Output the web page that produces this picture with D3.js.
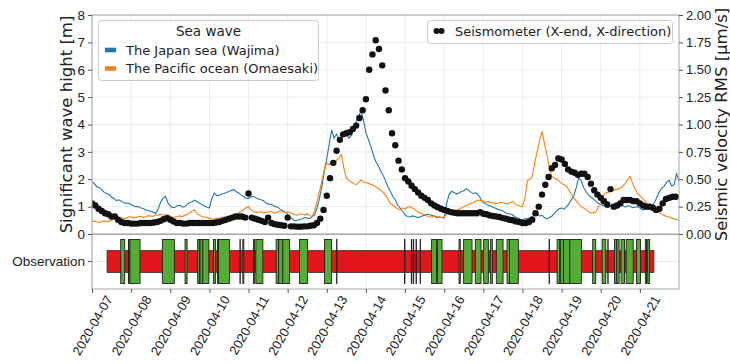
<!DOCTYPE html>
<html>
<head>
<meta charset="utf-8">
<script src="https://cdn.jsdelivr.net/npm/d3@7"></script>
<style>
  body { margin: 0; background: #fff; }
  svg { font-family: "DejaVu Sans", sans-serif; }
</style>
</head>
<body>
<svg id="chart" width="730" height="364"></svg>
<script>
// ---- data ----
const startDate = "2020-04-07";
const endDate = "2020-04-22";
const tickLabels = ["2020-04-07", "2020-04-08", "2020-04-09", "2020-04-10", "2020-04-11",
  "2020-04-12", "2020-04-13", "2020-04-14", "2020-04-15", "2020-04-16", "2020-04-17",
  "2020-04-18", "2020-04-19", "2020-04-20", "2020-04-21"];
const seisTicks = [0, 0.25, 0.5, 0.75, 1, 1.25, 1.5, 1.75, 2];

// significant wave height [m], one value every 1.5 hours
const waveStepHours = 1.5;
const wajima = [
  1.91, 1.84, 1.72, 1.70, 1.62, 1.52, 1.48, 1.44, 1.35, 1.30, 1.22, 1.25, 1.20, 1.14, 1.12, 1.13, 1.08, 1.02, 1.00, 1.00,
  0.95, 0.93, 0.88, 0.86, 0.82, 0.80, 0.75, 0.90, 1.15, 1.30, 1.38, 1.15, 1.02, 0.96, 0.98, 1.04, 1.05, 0.98, 1.00, 1.10,
  1.15, 1.18, 1.24, 1.18, 1.12, 1.08, 1.02, 0.98, 0.95, 1.30, 1.50, 1.40, 1.42, 1.46, 1.48, 1.52, 1.55, 1.60, 1.62, 1.54,
  1.50, 1.42, 1.38, 1.30, 1.30, 1.36, 1.38, 1.32, 1.28, 1.25, 1.22, 1.14, 1.10, 1.08, 1.05, 1.00, 0.98, 0.90, 0.85, 0.80,
  0.72, 0.60, 0.55, 0.48, 0.50, 0.54, 0.55, 0.60, 0.58, 0.56, 0.63, 0.70, 0.95, 1.30, 1.75, 2.30, 2.75, 3.30, 3.80, 3.50,
  3.65, 3.45, 3.55, 3.62, 3.70, 3.50, 3.60, 3.80, 4.10, 4.30, 4.50, 4.15, 3.70, 3.45, 3.20, 2.90, 2.65, 2.50, 2.30, 2.15,
  1.95, 1.72, 1.55, 1.38, 1.25, 1.05, 0.95, 0.82, 0.70, 0.64, 0.62, 0.66, 0.64, 0.60, 0.62, 0.66, 0.68, 0.72, 0.70, 0.68,
  0.66, 0.60, 0.62, 0.60, 0.58, 1.10, 1.45, 1.56, 1.52, 1.46, 1.50, 1.55, 1.58, 1.65, 1.60, 1.52, 1.48, 1.50, 1.42, 1.28,
  1.15, 1.10, 1.05, 1.02, 0.98, 0.94, 0.90, 0.88, 0.85, 0.78, 0.75, 0.73, 0.70, 0.62, 0.58, 0.54, 0.52, 0.56, 0.55, 0.60,
  0.63, 0.70, 0.72, 0.66, 0.68, 0.60, 0.55, 0.60, 0.65, 0.75, 0.85, 0.92, 0.95, 0.90, 1.00, 1.10, 1.25, 1.40, 1.70, 2.05,
  1.95, 1.70, 1.55, 1.42, 1.35, 1.28, 1.20, 1.12, 1.08, 1.04, 1.00, 0.96, 1.02, 1.08, 1.06, 1.00, 1.02, 1.05, 0.98, 1.03,
  1.02, 0.96, 0.98, 1.00, 0.95, 0.88, 0.90, 0.95, 0.98, 1.05, 1.15, 1.35, 1.55, 1.68, 1.75, 1.90, 1.95, 1.75, 1.80, 2.20, 1.95];
const omaesaki = [
  0.45, 0.47, 0.44, 0.42, 0.46, 0.48, 0.45, 0.47, 0.50, 0.58, 0.55, 0.57, 0.60, 0.56, 0.58, 0.63, 0.62, 0.58, 0.60, 0.64,
  0.65, 0.61, 0.63, 0.67, 0.66, 0.64, 0.70, 0.68, 0.73, 0.70, 0.68, 0.71, 0.65, 0.60, 0.62, 0.64, 0.66, 0.63, 0.69, 0.72,
  0.78, 0.84, 0.88, 0.74, 0.68, 0.64, 0.62, 0.60, 0.58, 0.54, 0.55, 0.58, 0.56, 0.62, 0.60, 0.57, 0.58, 0.62, 0.65, 0.70,
  0.78, 0.82, 0.90, 0.96, 1.00, 0.88, 0.82, 0.80, 0.78, 0.82, 0.76, 0.79, 0.80, 0.84, 0.78, 0.76, 0.80, 0.85, 0.82, 0.78,
  0.81, 0.78, 0.75, 0.70, 0.69, 0.74, 0.72, 0.70, 0.74, 0.68, 0.63, 0.85, 1.20, 1.55, 1.95, 2.35, 2.60, 2.52, 2.65, 2.58,
  2.70, 2.78, 2.90, 2.40, 2.05, 1.95, 1.90, 1.84, 1.80, 1.88, 1.97, 1.90, 1.88, 1.85, 1.82, 1.78, 1.72, 1.66, 1.60, 1.52,
  1.42, 1.28, 1.12, 1.05, 0.98, 0.92, 0.88, 0.95, 0.92, 0.98, 1.00, 0.94, 0.88, 0.82, 0.78, 0.74, 0.70, 0.66, 0.63, 0.62,
  0.66, 0.64, 0.62, 0.60, 0.63, 0.70, 0.78, 0.82, 0.85, 0.88, 0.90, 0.95, 1.00, 1.04, 1.08, 1.12, 1.15, 1.20, 1.24, 1.22,
  1.20, 1.16, 1.18, 1.14, 1.15, 1.10, 1.12, 1.16, 1.14, 1.12, 1.10, 1.15, 1.18, 1.10, 1.05, 1.02, 1.00, 1.30, 1.95, 2.00,
  2.10, 2.60, 3.00, 3.40, 3.75, 3.30, 2.90, 2.40, 2.10, 2.05, 2.00, 1.92, 1.85, 1.80, 1.75, 1.60, 1.45, 1.32, 1.20, 1.10,
  1.00, 0.95, 0.90, 0.82, 0.76, 0.78, 0.80, 0.98, 1.20, 1.40, 1.50, 1.52, 1.55, 1.60, 1.62, 1.64, 1.68, 1.75, 1.85, 1.98,
  2.10, 1.85, 1.65, 1.50, 1.40, 1.30, 1.22, 1.12, 1.05, 0.95, 0.88, 0.82, 0.78, 0.72, 0.68, 0.64, 0.62, 0.58, 0.55, 0.52, 0.50];

// seismic velocity RMS [um/s], one value every 2 hours
const seismoStepHours = 2;
const seismo = [0.28, 0.26, 0.23, 0.21, 0.19, 0.18, 0.16, 0.16, 0.13, 0.11,
  0.10, 0.10, 0.095, 0.095, 0.095, 0.10, 0.10, 0.10, 0.10, 0.105,
  0.11, 0.12, 0.135, 0.145, 0.13, 0.115, 0.10, 0.10, 0.095, 0.095,
  0.10, 0.10, 0.10, 0.10, 0.10, 0.10, 0.10, 0.10, 0.105, 0.11,
  0.12, 0.13, 0.14, 0.15, 0.16, 0.16, 0.16, 0.15, 0.37, 0.15,
  0.14, 0.13, 0.12, 0.11, 0.15, 0.10, 0.09, 0.085, 0.08, 0.075,
  0.15, 0.07, 0.07, 0.067, 0.067, 0.07, 0.07, 0.075, 0.08, 0.10,
  0.14, 0.22, 0.35, 0.51, 0.65, 0.76, 0.86, 0.91, 0.92, 0.93,
  0.96, 0.99, 1.06, 1.13, 1.23, 1.50, 1.64, 1.77, 1.69, 1.54,
  1.31, 1.13, 0.92, 0.81, 0.67, 0.59, 0.51, 0.48, 0.44, 0.41,
  0.38, 0.35, 0.33, 0.31, 0.28, 0.26, 0.245, 0.23, 0.22, 0.21,
  0.20, 0.195, 0.19, 0.19, 0.19, 0.19, 0.19, 0.19, 0.19, 0.20,
  0.185, 0.18, 0.17, 0.165, 0.16, 0.155, 0.145, 0.14, 0.13, 0.125,
  0.115, 0.11, 0.10, 0.10, 0.11, 0.13, 0.19, 0.25, 0.36, 0.45,
  0.52, 0.60, 0.63, 0.69, 0.68, 0.64, 0.59, 0.57, 0.56, 0.54,
  0.55, 0.55, 0.52, 0.46, 0.40, 0.36, 0.33, 0.30, 0.27, 0.41,
  0.25, 0.26, 0.28, 0.31, 0.31, 0.31, 0.30, 0.30, 0.28, 0.26,
  0.25, 0.25, 0.24, 0.22, 0.23, 0.28, 0.32, 0.33, 0.34, 0.34];

// observation periods, in days after 2020-04-07 00:00
const obsSpan = [0.384, 14.36];
const obsGreen = [
  [0.734, 0.836], [0.93, 0.95], [0.97, 1.228], [1.798, 2.105], [2.378, 2.43],
  [2.70, 2.745], [2.76, 2.83], [2.83, 2.985], [3.102, 3.153], [3.205, 3.23],
  [3.23, 3.512], [3.78, 3.79], [3.854, 3.88], [4.125, 4.15], [4.187, 4.366],
  [4.706, 4.77], [4.77, 4.875], [4.875, 5.046], [5.302, 5.506], [5.941, 6.12],
  [6.25, 6.26], [7.985, 7.995], [8.16, 8.17], [8.21, 8.22], [8.28, 8.29],
  [8.385, 8.395], [8.678, 8.806], [8.831, 8.944], [9.379, 9.412], [9.496, 9.711],
  [9.795, 9.941], [10.008, 10.128], [10.179, 10.23], [10.332, 10.504], [10.606, 10.67],
  [10.67, 10.895], [11.68, 11.69], [11.885, 11.951], [11.969, 12.05], [12.05, 12.21],
  [12.21, 12.506], [12.795, 12.872], [13.036, 13.128], [13.18, 13.19], [13.35, 13.41],
  [13.41, 13.47], [13.52, 13.606], [13.65, 13.83], [13.913, 14.015], [14.14, 14.17],
  [14.2, 14.25]];
const obsCategory = ["Observation"];

// ---- layout ----
const svg = d3.select("#chart");
const left = 92, right = 679;
const topY = 15, mainBottom = 234, obsBottom = 289;
const tickFont = "13.5px";
const parse = d3.utcParse("%Y-%m-%d");
const t0 = parse(startDate);
const dayMs = 864e5;
const dayToDate = d => new Date(t0.getTime() + d * dayMs);

const x = d3.scaleUtc().domain([t0, parse(endDate)]).range([left, right]);
const yWave = d3.scaleLinear().domain([0, 8]).range([mainBottom, topY]);
const ySeis = d3.scaleLinear().domain([0, 2]).range([mainBottom, topY]);
const yObs = d3.scaleBand().domain(obsCategory).range([mainBottom, obsBottom]);
const tickDates = tickLabels.map(parse);

const gridColor = "#e6e6e6", spineColor = "#a8a8a8", tickColor = "#555";
const blue = "#1f77b4", orange = "#ff7f0e";

svg.append("clipPath").attr("id", "clipMain")
  .append("rect").attr("x", left).attr("y", topY)
  .attr("width", right - left).attr("height", mainBottom - topY);

// grids
const grid = svg.append("g");
grid.selectAll("line.gx").data(tickDates).enter().append("line")
  .attr("x1", d => x(d)).attr("x2", d => x(d))
  .attr("y1", topY).attr("y2", obsBottom)
  .attr("stroke", gridColor).attr("stroke-width", 0.8);
grid.selectAll("line.gy").data(d3.range(0, 9)).enter().append("line")
  .attr("x1", left).attr("x2", right)
  .attr("y1", d => yWave(d)).attr("y2", d => yWave(d))
  .attr("stroke", gridColor).attr("stroke-width", 0.8);
const bandMid = yObs("Observation") + yObs.bandwidth() / 2;
grid.append("line")
  .attr("x1", left).attr("x2", right)
  .attr("y1", bandMid).attr("y2", bandMid)
  .attr("stroke", gridColor).attr("stroke-width", 0.8);

// wave lines
const waveLine = d3.line()
  .x((d, i) => x(dayToDate(i * waveStepHours / 24)))
  .y(d => yWave(d));
const plot = svg.append("g").attr("clip-path", "url(#clipMain)");
plot.append("path").datum(wajima).attr("d", waveLine)
  .attr("fill", "none").attr("stroke", blue).attr("stroke-width", 1.1);
plot.append("path").datum(omaesaki).attr("d", waveLine)
  .attr("fill", "none").attr("stroke", orange).attr("stroke-width", 1.1);

// seismometer dots
plot.selectAll("circle.seis").data(seismo).enter().append("circle")
  .attr("cx", (d, i) => x(dayToDate(i * seismoStepHours / 24)))
  .attr("cy", d => ySeis(d))
  .attr("r", 3.2)
  .attr("fill", "#111");

// observation panel
const obs = svg.append("g");
obs.append("rect")
  .attr("x", x(dayToDate(obsSpan[0])))
  .attr("width", x(dayToDate(obsSpan[1])) - x(dayToDate(obsSpan[0])))
  .attr("y", bandMid - 11).attr("height", 22)
  .attr("fill", "#e3151a").attr("stroke", "#333").attr("stroke-width", 0.8);
obs.selectAll("rect.g").data(obsGreen).enter().append("rect")
  .attr("x", d => x(dayToDate(d[0])))
  .attr("width", d => x(dayToDate(d[1])) - x(dayToDate(d[0])))
  .attr("y", bandMid - 22).attr("height", 44)
  .attr("fill", "#52ae32").attr("stroke", "#222").attr("stroke-width", 0.9);

// spines
svg.append("rect").attr("x", left).attr("y", topY)
  .attr("width", right - left).attr("height", mainBottom - topY)
  .attr("fill", "none").attr("stroke", spineColor).attr("stroke-width", 1);
svg.append("rect").attr("x", left).attr("y", mainBottom + 0.5)
  .attr("width", right - left).attr("height", obsBottom - mainBottom - 0.5)
  .attr("fill", "none").attr("stroke", spineColor).attr("stroke-width", 1);

// axes
function styleAxis(g, size) {
  g.select(".domain").remove();
  g.selectAll(".tick line").attr("stroke", tickColor);
  g.selectAll(".tick text").attr("fill", "#222").style("font-size", size || tickFont);
}
svg.append("g").attr("transform", `translate(${left},0)`)
  .call(d3.axisLeft(yWave).ticks(8).tickFormat(d3.format("d")).tickSize(4).tickPadding(3))
  .call(styleAxis);
svg.append("g").attr("transform", `translate(${right},0)`)
  .call(d3.axisRight(ySeis).tickValues(seisTicks).tickFormat(d3.format(".2f")).tickSize(4).tickPadding(3))
  .call(styleAxis, "13px");
svg.append("g").attr("transform", `translate(${left},0)`)
  .call(d3.axisLeft(yObs).tickSize(4).tickPadding(3))
  .call(styleAxis);

const xAxis = svg.append("g").attr("transform", `translate(0,${obsBottom})`)
  .call(d3.axisBottom(x).tickValues(tickDates).tickFormat(d3.utcFormat("%Y-%m-%d")).tickSize(4))
  .call(styleAxis, "13px");
xAxis.selectAll(".tick text").each(function () {
  const t = d3.select(this);
  const L = this.getComputedTextLength();
  const h = 15;
  t.attr("x", 0).attr("y", 0).attr("dy", null)
    .attr("text-anchor", "end").attr("dominant-baseline", "central")
    .attr("transform", `translate(${0.25 * L},${4 + 0.25 * h}) rotate(-60)`);
});

// axis titles
svg.append("text")
  .attr("transform", `translate(72,${(topY + mainBottom) / 2}) rotate(-90)`)
  .attr("text-anchor", "middle").attr("fill", "#222").style("font-size", "16.5px")
  .text("Significant wave hight [m]");
svg.append("text")
  .attr("transform", `translate(727,${(topY + mainBottom) / 2}) rotate(-90)`)
  .attr("text-anchor", "middle").attr("fill", "#222").style("font-size", "16.5px")
  .text("Seismic velocity RMS [μm/s]");

// legend: sea wave
const leg1 = svg.append("g");
leg1.append("rect").attr("x", 98.5).attr("y", 20.5).attr("width", 220).attr("height", 60)
  .attr("rx", 3).attr("fill", "#fff").attr("fill-opacity", 0.8)
  .attr("stroke", "#cccccc");
leg1.append("text").attr("x", 208.5).attr("y", 31).attr("dominant-baseline", "central")
  .attr("text-anchor", "middle").attr("fill", "#222").style("font-size", "13.5px").text("Sea wave");
[["The Japan sea (Wajima)", blue], ["The Pacific ocean (Omaesaki)", orange]].forEach((e, i) => {
  const cy = 50 + i * 18.5;
  leg1.append("rect").attr("x", 105).attr("y", cy - 2.3).attr("width", 11).attr("height", 4.6)
    .attr("fill", e[1]);
  leg1.append("text").attr("x", 126).attr("y", cy).attr("dominant-baseline", "central")
    .attr("fill", "#222").style("font-size", "13px").text(e[0]);
});

// legend: seismometer
const leg2 = svg.append("g");
leg2.append("rect").attr("x", 427.5).attr("y", 20.5).attr("width", 245).attr("height", 23)
  .attr("rx", 3).attr("fill", "#fff").attr("fill-opacity", 0.8)
  .attr("stroke", "#cccccc");
[436.5, 441.5].forEach(cx => leg2.append("circle").attr("cx", cx).attr("cy", 31).attr("r", 3)
  .attr("fill", "#111"));
leg2.append("text").attr("x", 455).attr("y", 31.5).attr("dominant-baseline", "central")
  .attr("fill", "#222").style("font-size", "13px").text("Seismometer (X-end, X-direction)");
</script>
</body>
</html>
